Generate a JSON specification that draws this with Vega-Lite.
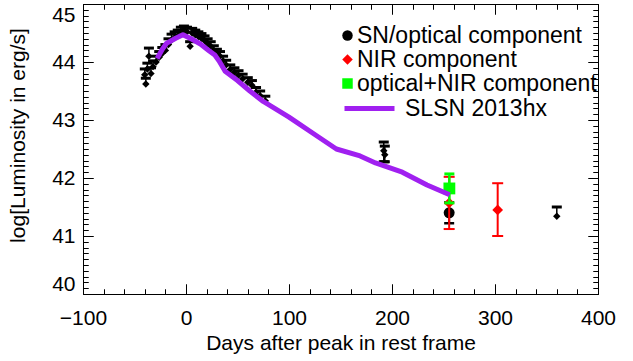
{
  "$schema": "https://vega.github.io/schema/vega-lite/v6.json",
  "width": 515,
  "height": 290,
  "autosize": "none",
  "padding": {"left": 83, "top": 4, "right": 35, "bottom": 67},
  "background": "white",
  "config": {
    "view": {"stroke": "black", "strokeWidth": 1},
    "font": "Liberation Sans",
    "axis": {"domain": false, "grid": false, "ticks": true, "zindex": 1, "tickColor": "black", "tickWidth": 1, "tickOpacity": 1, "labelColor": "black", "titleColor": "black", "labelFont": "Liberation Sans", "titleFont": "Liberation Sans", "labelFontSize": 21, "titleFontSize": 21, "titleFontWeight": "normal"},
    "legend": {"labelFont": "Liberation Sans", "labelFontSize": 23, "labelColor": "black", "labelLimit": 400, "symbolOpacity": 1}
  },
  "datasets": {
    "obs": [
      {"d": -40, "L": 43.78, "lo": 43.78, "hi": 43.88},
      {"d": -39, "L": 43.62, "lo": 43.62, "hi": 43.72},
      {"d": -37.5, "L": 43.88, "lo": 43.88, "hi": 43.98},
      {"d": -36, "L": 44.1, "lo": 44.1, "hi": 44.24},
      {"d": -34, "L": 43.8, "lo": 43.8, "hi": 43.9},
      {"d": -32, "L": 43.92, "lo": 43.92, "hi": 44.02},
      {"d": -29, "L": 44.0, "lo": 44.0, "hi": 44.1},
      {"d": -26, "L": 44.08, "lo": 44.08, "hi": 44.18},
      {"d": -23, "L": 44.15, "lo": 44.15, "hi": 44.25},
      {"d": -20, "L": 44.2, "lo": 44.2, "hi": 44.3},
      {"d": -17, "L": 44.3, "lo": 44.3, "hi": 44.4},
      {"d": -14, "L": 44.38, "lo": 44.38, "hi": 44.48},
      {"d": -11, "L": 44.42, "lo": 44.42, "hi": 44.52},
      {"d": -8, "L": 44.45, "lo": 44.45, "hi": 44.55},
      {"d": -5, "L": 44.52, "lo": 44.52, "hi": 44.6},
      {"d": -2, "L": 44.56, "lo": 44.56, "hi": 44.62},
      {"d": 1, "L": 44.52, "lo": 44.52, "hi": 44.6},
      {"d": 4, "L": 44.27, "lo": 44.27, "hi": 44.35},
      {"d": 6, "L": 44.5, "lo": 44.5, "hi": 44.58},
      {"d": 9, "L": 44.47, "lo": 44.47, "hi": 44.55},
      {"d": 12, "L": 44.44, "lo": 44.44, "hi": 44.52},
      {"d": 15, "L": 44.41, "lo": 44.41, "hi": 44.49},
      {"d": 18, "L": 44.37, "lo": 44.37, "hi": 44.45},
      {"d": 21, "L": 44.32, "lo": 44.32, "hi": 44.4},
      {"d": 24, "L": 44.27, "lo": 44.27, "hi": 44.35},
      {"d": 27, "L": 44.2, "lo": 44.2, "hi": 44.28},
      {"d": 30, "L": 44.14, "lo": 44.14, "hi": 44.22},
      {"d": 33, "L": 44.1, "lo": 44.1, "hi": 44.18},
      {"d": 36, "L": 44.02, "lo": 44.02, "hi": 44.1},
      {"d": 39, "L": 43.95, "lo": 43.95, "hi": 44.03},
      {"d": 43, "L": 43.87, "lo": 43.87, "hi": 43.95},
      {"d": 47, "L": 43.82, "lo": 43.82, "hi": 43.9},
      {"d": 51, "L": 43.77, "lo": 43.77, "hi": 43.85},
      {"d": 55, "L": 43.71, "lo": 43.71, "hi": 43.79},
      {"d": 60, "L": 43.65, "lo": 43.65, "hi": 43.73},
      {"d": 64, "L": 43.6, "lo": 43.6, "hi": 43.68},
      {"d": 68, "L": 43.48, "lo": 43.48, "hi": 43.56},
      {"d": 72, "L": 43.42, "lo": 43.42, "hi": 43.5},
      {"d": 77, "L": 43.33, "lo": 43.33, "hi": 43.41},
      {"d": 192, "L": 42.47, "lo": 42.28, "hi": 42.62},
      {"d": 193, "L": 42.4, "lo": 42.28, "hi": 42.55},
      {"d": 360, "L": 41.34, "lo": 41.34, "hi": 41.5}
    ],
    "comp": [
      {"series": "SN/optical component", "d": 255.5, "L": 41.4, "lo": 41.22, "hi": 41.58},
      {"series": "NIR component", "d": 255.5, "L": 41.57, "lo": 41.12, "hi": 42.02},
      {"series": "NIR component", "d": 302.6, "L": 41.45, "lo": 41.0, "hi": 41.91},
      {"series": "optical+NIR component", "d": 255.7, "L": 41.82, "lo": 41.57, "hi": 42.07}
    ],
    "slsn": [
      {"series": "SLSN 2013hx", "d": -28, "L": 44.06},
      {"series": "SLSN 2013hx", "d": -23, "L": 44.22},
      {"series": "SLSN 2013hx", "d": -19, "L": 44.32},
      {"series": "SLSN 2013hx", "d": -10, "L": 44.41},
      {"series": "SLSN 2013hx", "d": -3, "L": 44.47},
      {"series": "SLSN 2013hx", "d": 5, "L": 44.4},
      {"series": "SLSN 2013hx", "d": 14, "L": 44.31},
      {"series": "SLSN 2013hx", "d": 22, "L": 44.2},
      {"series": "SLSN 2013hx", "d": 28, "L": 44.12},
      {"series": "SLSN 2013hx", "d": 32, "L": 44.02},
      {"series": "SLSN 2013hx", "d": 38, "L": 43.84},
      {"series": "SLSN 2013hx", "d": 50, "L": 43.68},
      {"series": "SLSN 2013hx", "d": 62, "L": 43.5},
      {"series": "SLSN 2013hx", "d": 75, "L": 43.32},
      {"series": "SLSN 2013hx", "d": 100, "L": 43.05},
      {"series": "SLSN 2013hx", "d": 125, "L": 42.75},
      {"series": "SLSN 2013hx", "d": 146, "L": 42.5},
      {"series": "SLSN 2013hx", "d": 169, "L": 42.38},
      {"series": "SLSN 2013hx", "d": 184, "L": 42.26},
      {"series": "SLSN 2013hx", "d": 210, "L": 42.1},
      {"series": "SLSN 2013hx", "d": 234, "L": 41.88},
      {"series": "SLSN 2013hx", "d": 256, "L": 41.71}
    ]
  },
  "resolve": {"axis": {"x": "independent", "y": "independent"}},
  "layer": [
    {
      "data": {"name": "obs"},
      "mark": {"type": "rule", "color": "black", "strokeWidth": 1.5, "opacity": 1},
      "encoding": {
        "x": {"field": "d", "type": "quantitative", "scale": {"domain": [-100, 400], "nice": false, "zero": false},
          "axis": {"orient": "bottom", "ticks": true, "zindex": 1, "values": [-100, -80, -60, -40, -20, 0, 20, 40, 60, 80, 100, 120, 140, 160, 180, 200, 220, 240, 260, 280, 300, 320, 340, 360, 380, 400],
            "tickSize": {"condition": {"test": "datum.value % 100 === 0", "value": -10}, "value": -5},
            "grid": true, "gridColor": "black", "gridOpacity": 1, "gridWidth": 1,
            "gridDash": {"condition": {"test": "datum.value % 100 === 0", "value": [10, 1000]}, "value": [5, 1000]},
            "labelExpr": "datum.value % 100 === 0 ? datum.label : ''", "labelPadding": 23, "labelFlush": false, "title": "Days after peak in rest frame", "titlePadding": 4}},
        "y": {"field": "lo", "type": "quantitative", "scale": {"domain": [40, 45], "nice": false, "zero": false},
          "axis": {"orient": "left", "ticks": true, "zindex": 1, "values": [40, 40.1, 40.2, 40.3, 40.4, 40.5, 40.6, 40.7, 40.8, 40.9, 41, 41.1, 41.2, 41.3, 41.4, 41.5, 41.6, 41.7, 41.8, 41.9, 42, 42.1, 42.2, 42.3, 42.4, 42.5, 42.6, 42.7, 42.8, 42.9, 43, 43.1, 43.2, 43.3, 43.4, 43.5, 43.6, 43.7, 43.8, 43.9, 44, 44.1, 44.2, 44.3, 44.4, 44.5, 44.6, 44.7, 44.8, 44.9, 45],
            "tickSize": {"condition": {"test": "abs(datum.value - round(datum.value)) < 0.001", "value": -10}, "value": -5},
            "grid": true, "gridColor": "black", "gridOpacity": 1, "gridWidth": 1,
            "gridDash": {"condition": {"test": "abs(datum.value - round(datum.value)) < 0.001", "value": [10, 1000]}, "value": [5, 1000]},
            "labelExpr": "abs(datum.value - round(datum.value)) < 0.001 ? format(datum.value, '.0f') : ''", "labelPadding": 18, "labelFlush": true, "title": "log[Luminosity in erg/s]", "titlePadding": 23, "titleY": 131}},
        "y2": {"field": "hi"}
      }
    },
    {
      "data": {"name": "obs"},
      "mark": {"type": "tick", "orient": "horizontal", "color": "black", "size": 10, "thickness": 3, "opacity": 1},
      "encoding": {
        "x": {"field": "d", "type": "quantitative", "axis": null},
        "y": {"field": "hi", "type": "quantitative", "axis": null}
      }
    },
    {
      "data": {"name": "obs"},
      "transform": [{"filter": "datum.lo < datum.L"}],
      "mark": {"type": "tick", "orient": "horizontal", "color": "black", "size": 10, "thickness": 3, "opacity": 1},
      "encoding": {
        "x": {"field": "d", "type": "quantitative", "axis": null},
        "y": {"field": "lo", "type": "quantitative", "axis": null}
      }
    },
    {
      "data": {"name": "obs"},
      "mark": {"type": "point", "shape": "diamond", "filled": true, "color": "black", "size": 55, "opacity": 1},
      "encoding": {
        "x": {"field": "d", "type": "quantitative", "scale": {"domain": [-100, 400], "nice": false, "zero": false},
          "axis": {"ticks": true, "zindex": 1, "values": [-100, -80, -60, -40, -20, 0, 20, 40, 60, 80, 100, 120, 140, 160, 180, 200, 220, 240, 260, 280, 300, 320, 340, 360, 380, 400],
            "tickSize": {"condition": {"test": "datum.value % 100 === 0", "value": -10}, "value": -5},
            "grid": true, "gridColor": "black", "gridOpacity": 1, "gridWidth": 1,
            "gridDash": {"condition": {"test": "datum.value % 100 === 0", "value": [10, 1000]}, "value": [5, 1000]},
            "labelExpr": "''", "title": "", "labelFlush": false}},
        "y": {"field": "L", "type": "quantitative", "scale": {"domain": [40, 45], "nice": false, "zero": false},
          "axis": {"ticks": true, "zindex": 1, "values": [40, 40.1, 40.2, 40.3, 40.4, 40.5, 40.6, 40.7, 40.8, 40.9, 41, 41.1, 41.2, 41.3, 41.4, 41.5, 41.6, 41.7, 41.8, 41.9, 42, 42.1, 42.2, 42.3, 42.4, 42.5, 42.6, 42.7, 42.8, 42.9, 43, 43.1, 43.2, 43.3, 43.4, 43.5, 43.6, 43.7, 43.8, 43.9, 44, 44.1, 44.2, 44.3, 44.4, 44.5, 44.6, 44.7, 44.8, 44.9, 45],
            "tickSize": {"condition": {"test": "abs(datum.value - round(datum.value)) < 0.001", "value": -10}, "value": -5},
            "grid": true, "gridColor": "black", "gridOpacity": 1, "gridWidth": 1,
            "gridDash": {"condition": {"test": "abs(datum.value - round(datum.value)) < 0.001", "value": [10, 1000]}, "value": [5, 1000]},
            "labelExpr": "''", "title": "", "labelFlush": false}}
      }
    },
    {
      "data": {"name": "comp"},
      "transform": [{"filter": "datum.series === 'SN/optical component'"}],
      "encoding": {
        "x": {"field": "d", "type": "quantitative", "axis": null},
        "color": {"field": "series", "type": "nominal", "scale": {"domain": ["SN/optical component", "NIR component", "optical+NIR component"], "range": ["#000000", "#ff0000", "#00ff00"]},
          "legend": {"orient": "none", "legendX": 253, "legendY": 20, "title": null, "symbolSize": 110, "labelOffset": -2, "rowPadding": 0, "padding": 0, "symbolStrokeWidth": 0}}
      },
      "layer": [
        {"mark": {"type": "rule", "strokeWidth": 2, "opacity": 1}, "encoding": {"y": {"field": "lo", "type": "quantitative", "axis": null}, "y2": {"field": "hi"}}},
        {"mark": {"type": "tick", "orient": "horizontal", "size": 10, "thickness": 2.5, "opacity": 1}, "encoding": {"y": {"field": "lo", "type": "quantitative", "axis": null}}},
        {"mark": {"type": "tick", "orient": "horizontal", "size": 10, "thickness": 2.5, "opacity": 1}, "encoding": {"y": {"field": "hi", "type": "quantitative", "axis": null}}},
        {"mark": {"type": "point", "filled": true, "size": 120, "opacity": 1}, "encoding": {"y": {"field": "L", "type": "quantitative", "axis": null},
          "shape": {"field": "series", "type": "nominal", "scale": {"domain": ["SN/optical component", "NIR component", "optical+NIR component"], "range": ["circle", "diamond", "square"]},
            "legend": {"orient": "none", "legendX": 253, "legendY": 20, "title": null, "symbolSize": 110, "labelOffset": -2, "rowPadding": 0, "padding": 0, "symbolStrokeWidth": 0}}}}
      ]
    },
    {
      "data": {"name": "comp"},
      "transform": [{"filter": "datum.series === 'NIR component'"}],
      "encoding": {
        "x": {"field": "d", "type": "quantitative", "axis": null},
        "color": {"field": "series", "type": "nominal", "scale": {"domain": ["SN/optical component", "NIR component", "optical+NIR component"], "range": ["#000000", "#ff0000", "#00ff00"]},
          "legend": {"orient": "none", "legendX": 253, "legendY": 20, "title": null, "symbolSize": 110, "labelOffset": -2, "rowPadding": 0, "padding": 0, "symbolStrokeWidth": 0}}
      },
      "layer": [
        {"mark": {"type": "rule", "strokeWidth": 2, "opacity": 1}, "encoding": {"y": {"field": "lo", "type": "quantitative", "axis": null}, "y2": {"field": "hi"}}},
        {"mark": {"type": "tick", "orient": "horizontal", "size": 11, "thickness": 2, "opacity": 1}, "encoding": {"y": {"field": "lo", "type": "quantitative", "axis": null}}},
        {"mark": {"type": "tick", "orient": "horizontal", "size": 11, "thickness": 2, "opacity": 1}, "encoding": {"y": {"field": "hi", "type": "quantitative", "axis": null}}},
        {"mark": {"type": "point", "filled": true, "size": 115, "opacity": 1}, "encoding": {"y": {"field": "L", "type": "quantitative", "axis": null},
          "shape": {"field": "series", "type": "nominal", "scale": {"domain": ["SN/optical component", "NIR component", "optical+NIR component"], "range": ["circle", "diamond", "square"]},
            "legend": {"orient": "none", "legendX": 253, "legendY": 20, "title": null, "symbolSize": 110, "labelOffset": -2, "rowPadding": 0, "padding": 0, "symbolStrokeWidth": 0}}}}
      ]
    },
    {
      "data": {"name": "comp"},
      "transform": [{"filter": "datum.series === 'optical+NIR component'"}],
      "encoding": {
        "x": {"field": "d", "type": "quantitative", "axis": null},
        "color": {"field": "series", "type": "nominal", "scale": {"domain": ["SN/optical component", "NIR component", "optical+NIR component"], "range": ["#000000", "#ff0000", "#00ff00"]},
          "legend": {"orient": "none", "legendX": 253, "legendY": 20, "title": null, "symbolSize": 110, "labelOffset": -2, "rowPadding": 0, "padding": 0, "symbolStrokeWidth": 0}}
      },
      "layer": [
        {"mark": {"type": "rule", "strokeWidth": 2.5, "opacity": 1}, "encoding": {"y": {"field": "lo", "type": "quantitative", "axis": null}, "y2": {"field": "hi"}}},
        {"mark": {"type": "tick", "orient": "horizontal", "size": 10, "thickness": 3, "opacity": 1}, "encoding": {"y": {"field": "lo", "type": "quantitative", "axis": null}}},
        {"mark": {"type": "tick", "orient": "horizontal", "size": 10, "thickness": 3, "opacity": 1}, "encoding": {"y": {"field": "hi", "type": "quantitative", "axis": null}}},
        {"mark": {"type": "point", "filled": true, "size": 140, "opacity": 1}, "encoding": {"y": {"field": "L", "type": "quantitative", "axis": null},
          "shape": {"field": "series", "type": "nominal", "scale": {"domain": ["SN/optical component", "NIR component", "optical+NIR component"], "range": ["circle", "diamond", "square"]},
            "legend": {"orient": "none", "legendX": 253, "legendY": 20, "title": null, "symbolSize": 110, "labelOffset": -2, "rowPadding": 0, "padding": 0, "symbolStrokeWidth": 0}}}}
      ]
    },
    {
      "data": {"name": "slsn"},
      "mark": {"type": "line", "strokeWidth": 5, "strokeJoin": "round", "strokeCap": "butt", "opacity": 1},
      "encoding": {
        "x": {"field": "d", "type": "quantitative", "axis": null},
        "y": {"field": "L", "type": "quantitative", "axis": null},
        "stroke": {"field": "series", "type": "nominal", "scale": {"domain": ["SLSN 2013hx"], "range": ["#a020f0"]},
          "legend": {"orient": "none", "legendX": 259, "legendY": 77, "title": null, "symbolType": "stroke", "symbolSize": 2500, "symbolStrokeWidth": 5, "labelOffset": 8, "padding": 0}}
      }
    }
  ]
}
